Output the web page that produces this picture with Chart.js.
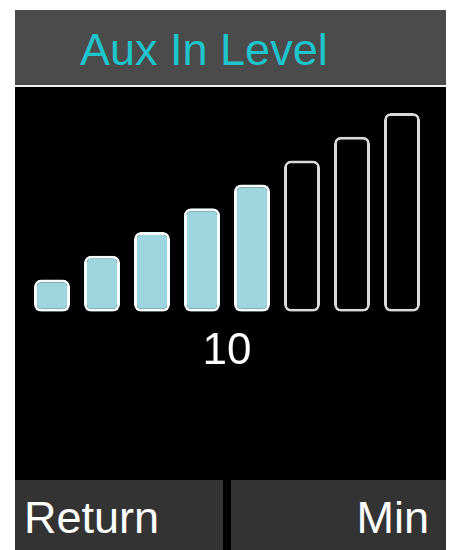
<!DOCTYPE html>
<html>
<head>
<meta charset="utf-8">
<script src="https://cdn.jsdelivr.net/npm/chart.js@4/dist/chart.umd.min.js"></script>
<style>
  html, body { margin: 0; padding: 0; background: #fff; }
  body { width: 451px; height: 550px; position: relative; overflow: hidden;
         font-family: "Liberation Sans", Arial, sans-serif; }
  #screen { position: absolute; left: 15px; top: 10px; width: 431px; height: 540px; background: #000; }
  #header { position: absolute; left: 0; top: 0; width: 431px; height: 75px; background: #4b4b4b;
            border-bottom: 2px solid #f2f2f2; }
  #title { position: absolute; left: 65px; top: 17px; font-size: 45px; line-height: 45px; color: #1fc5cc; white-space: nowrap; }
  #chartBox { position: absolute; left: 0; top: 77px; width: 431px; height: 393px; }
  .btn { position: absolute; top: 470px; height: 70px; background: #333; color: #fff;
         font-size: 45px; line-height: 45px; white-space: nowrap; }
  #btnLeft { left: 0; width: 208px; }
  #btnRight { left: 216px; width: 215px; }
  #btnLeft span { position: absolute; left: 9px; top: 15px; }
  #btnRight span { position: absolute; right: 17px; top: 15px; }
</style>
</head>
<body>
<div id="screen">
  <div id="header"><div id="title">Aux In Level</div></div>
  <div id="chartBox"><canvas id="chartLevel"></canvas></div>
  <div class="btn" id="btnLeft"><span>Return</span></div>
  <div class="btn" id="btnRight"><span>Min</span></div>
</div>
<script>
  "use strict";

  var steps = ["1", "2", "3", "4", "5", "6", "7", "8"];
  var levels = [1, 2, 3, 4, 5, 6, 7, 8];
  var litSteps = 5;
  var levelText = "10";

  var fills = levels.map(function (v, i) { return i < litSteps ? "#9dd6de" : "#000000"; });
  var borders = levels.map(function (v, i) { return i < litSteps ? "#f4fbfc" : "#d9d9d9"; });

  var ctx = document.getElementById("chartLevel").getContext("2d");
  var chart = new Chart(ctx, {
    type: "bar",
    data: {
      labels: steps,
      datasets: [
        {
          label: "Level",
          data: levels,
          base: -0.35,
          backgroundColor: fills,
          borderColor: borders,
          borderWidth: 3,
          borderRadius: 7,
          borderSkipped: false,
          barPercentage: 0.72,
          categoryPercentage: 1,
        },
      ],
    },
    options: {
      responsive: true,
      maintainAspectRatio: false,
      animation: false,
      layout: {
        padding: { left: 12, right: 19, top: 26, bottom: 101.5 },
      },
      plugins: {
        legend: { display: false },
        tooltip: { enabled: false },
      },
      scales: {
        x: {
          grid: { display: false, drawTicks: false },
          border: { display: false },
          ticks: { display: false },
          title: {
            display: true,
            text: levelText,
            color: "#ffffff",
            font: { family: "Liberation Sans", size: 44 },
            padding: { top: 14, bottom: 0 },
          },
        },
        y: {
          display: false,
          min: -0.35,
          max: 8,
        },
      },
    },
  });
</script>
</body>
</html>
